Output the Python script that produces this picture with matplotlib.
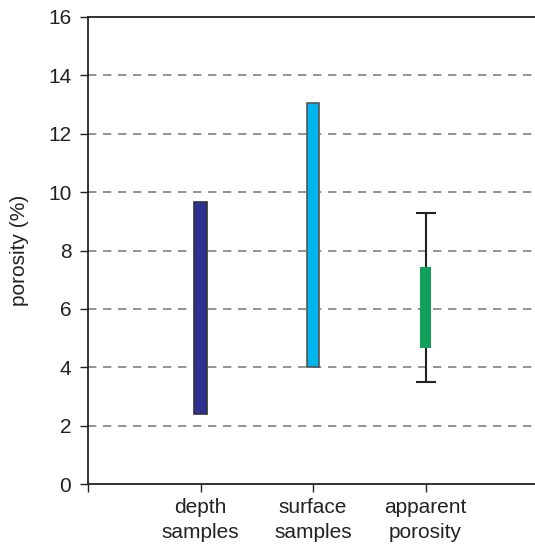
import matplotlib
matplotlib.use("Agg")
import matplotlib.pyplot as plt

# porosity ranges (%)
categories = ["depth\nsamples", "surface\nsamples", "apparent\nporosity"]
range_low = [2.4, 4.0, 4.65]
range_high = [9.65, 13.05, 7.45]
bar_colors = ["#2E3192", "#00B4EE", "#10A25A"]
bar_edges = ["#333333", "#555555", "none"]
err_low = 3.5
err_high = 9.3

plt.rcParams["font.family"] = ["Liberation Sans", "DejaVu Sans"]

fig = plt.figure(figsize=(5.35, 5.44), dpi=100)
ax = fig.add_axes([88 / 535, 60 / 544, 450 / 535, 467 / 544])

x = [1, 2, 3]
widths = [0.11, 0.11, 0.09]
heights = [h - l for l, h in zip(range_low, range_high)]

ax.errorbar(3, err_low, yerr=[[0], [err_high - err_low]], fmt="none",
            ecolor="#222222", elinewidth=1.5, capsize=7.5, capthick=1.5, zorder=3)
ax.bar(x, heights, bottom=range_low, width=widths, color=bar_colors,
       edgecolor=bar_edges, linewidth=1.2, zorder=4)

ax.set_xlim(0, 4)
ax.set_ylim(0, 16)
ax.set_yticks(range(0, 17, 2))
ax.set_xticks([0, 1, 2, 3])
ax.set_xticklabels([""] + categories, fontsize=15, color="#222222", linespacing=1.4)
ax.tick_params(axis="y", labelsize=15, length=6, width=1, pad=6, colors="#222222")
ax.tick_params(axis="x", length=6, width=1, pad=4, colors="#222222")

ax.set_ylabel("porosity (%)", fontsize=15, color="#222222", labelpad=14)

for v in range(2, 16, 2):
    ax.axhline(v, color="#808080", linestyle=(0, (5, 4)), linewidth=1.2, zorder=1)

ax.spines["right"].set_visible(False)
for s in ["left", "top", "bottom"]:
    ax.spines[s].set_linewidth(1.3)
    ax.spines[s].set_color("#222222")

fig.savefig("out.png", dpi=100)
